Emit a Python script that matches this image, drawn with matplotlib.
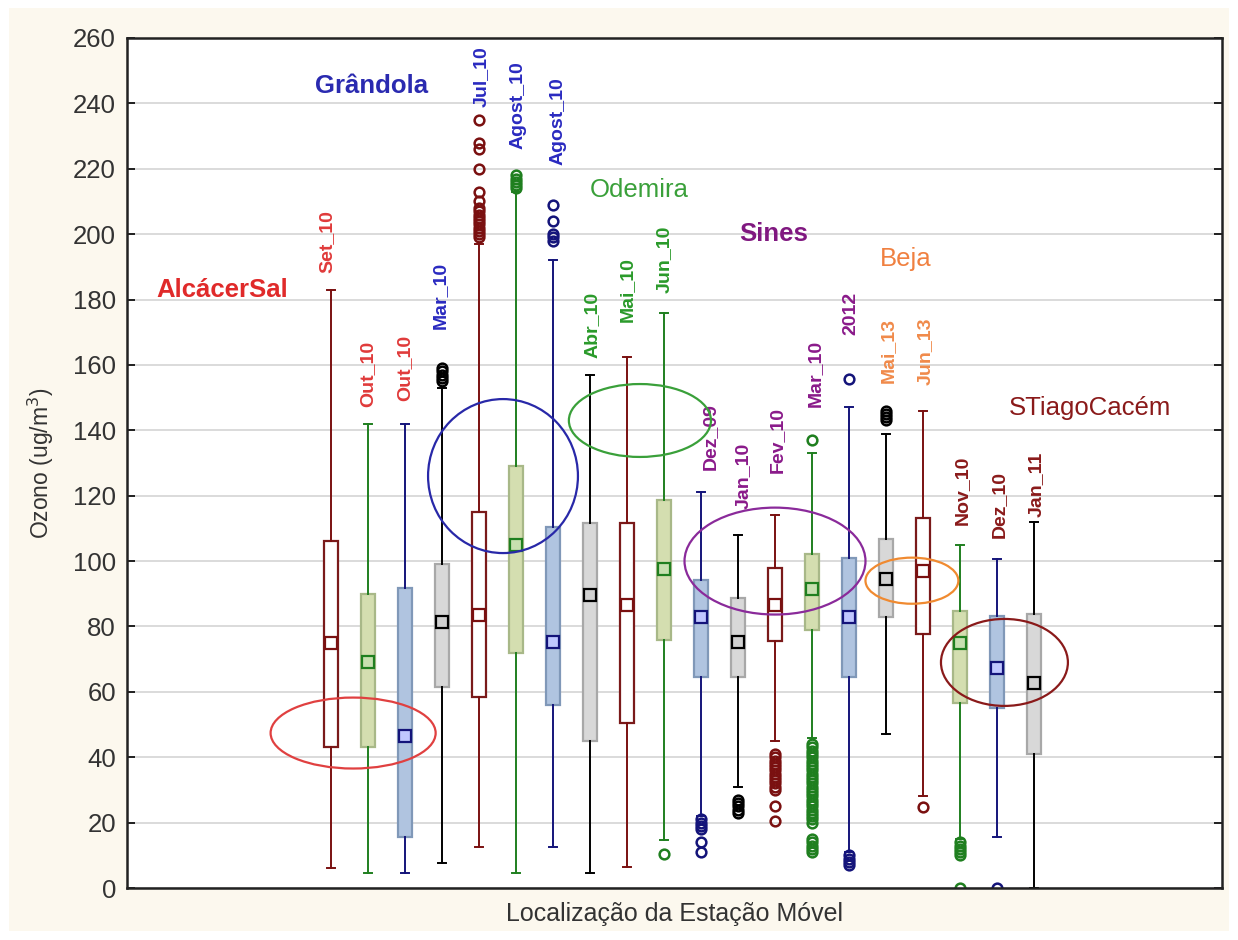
import matplotlib
matplotlib.use("Agg")
import matplotlib.pyplot as plt
from matplotlib.patches import Ellipse, Rectangle

plt.rcParams['font.family'] = ['Liberation Sans', 'DejaVu Sans']

# ---- data -------------------------------------------------------------
labels = ['Set_10', 'Out_10', 'Out_10', 'Mar_10', 'Jul_10', 'Agost_10', 'Agost_10',
          'Abr_10', 'Mai_10', 'Jun_10', 'Dez_09', 'Jan_10', 'Fev_10', 'Mar_10',
          '2012', 'Mai_13', 'Jun_13', 'Nov_10', 'Dez_10', 'Jan_11']
whisker_low = [6, 4.6, 4.6, 7.6, 12.6, 4.6, 12.6, 4.6, 6.4, 14.7,
               22, 31, 45, 46, 11, 47, 28, 15, 15.6, 0]
q1 = [43, 43, 15.6, 61.5, 58.4, 72, 56, 45, 50.5, 75.9,
      64.5, 64.5, 75.7, 78.9, 64.5, 82.9, 77.7, 56.6, 55, 41]
q3 = [106, 90, 91.8, 99, 115, 129, 110.4, 111.7, 111.7, 118.7,
      94.2, 88.7, 97.9, 102.2, 101, 106.8, 113.2, 84.7, 83.2, 83.8]
whisker_high = [183, 142, 142, 153, 197, 213, 192, 157, 162.5, 176,
                121, 108, 114, 133, 147, 139, 146, 105, 100.6, 112]
means = [75, 69, 46.5, 81.4, 83.5, 105, 75.3, 89.6, 86.6, 97.6,
         82.9, 75.3, 86.6, 91.5, 82.9, 94.5, 97, 74.9, 67.3, 62.7]
outliers = [
    [],
    [],
    [],
    [155, 156, 157, 158, 159],
    [199, 200, 201, 202, 203, 204, 205, 206, 207, 208, 210, 213, 220, 226, 228, 235],
    [214, 215, 216, 217, 218],
    [198, 199, 200, 204, 209],
    [],
    [],
    [10.5],
    [21, 20, 19, 18, 14, 11],
    [27, 26, 25, 24, 23],
    [41, 40, 39, 38, 37, 36, 35, 34, 33, 32, 31, 30, 25, 20.5],
    [137, 44, 43, 42, 41, 40, 39, 38, 37, 36, 35, 34, 33, 32, 31, 30, 29, 28, 27,
     26, 25, 24, 23, 22, 21, 20, 15, 14, 13, 12, 11],
    [155.7, 10, 9, 8, 7],
    [146, 145, 144, 143],
    [24.8],
    [14, 13, 12, 11, 10, 0],
    [0],
    [],
]
stations = ['AlcácerSal', 'Grândola', 'Odemira', 'Sines', 'Beja', 'STiagoCacém']

# ---- styles -----------------------------------------------------------
# four box styles repeat along the axis: white, green, blue, grey
box_fill = ['white', '#d4deb0', '#b0c4e0', '#d8d8d8']
box_edge = ['#7a1a1a', '#a8b888', '#8098b8', '#a8a8a8']
line_col = ['#7a1010', '#1f7f1f', '#14147a', '#000000']
mean_fill = ['white', '#c8e0b0', '#c0c8ff', '#d0d0d0']

label_col = ['#e03a3a'] * 3 + ['#2a2ac0'] * 4 + ['#2a9a2a'] * 3 + ['#8a1a8a'] * 5 \
    + ['#f08a4a'] * 2 + ['#8a1a1a'] * 3
label_base = [188, 147, 149, 171, 239, 226, 221, 162, 173, 182,
              128, 116, 127, 147, 169, 154.5, 154, 111, 107, 113.5]
label_dx = [-0.1, 0.0, 0.0, -0.05, 0.05, 0.05, 0.15, 0.05, 0.0, 0.0,
            0.25, 0.15, 0.05, 0.1, 0.05, 0.05, 0.05, 0.05, 0.05, 0.05]

station_col = ['#e02a2a', '#2a2ab0', '#3aa03a', '#801880', '#f08040', '#8a1a1a']
station_pos = [(-1.95, 183), (2.11, 245.3), (9.32, 213.5), (12.95, 200),
               (16.54, 192.4), (21.5, 146.8)]
station_bold = [True, True, False, True, False, False]

ellipses = [((1.6, 47.4), 4.46, 21.7), ((5.65, 126), 4.05, 47.1),
            ((9.35, 143), 3.84, 22.3), ((13.0, 100), 4.89, 32.7),
            ((16.7, 94), 2.51, 14.1), ((19.2, 69), 3.43, 26.6)]
ellipse_col = ['#e04040', '#2828a8', '#3aa03a', '#8a2a9a', '#f08a30', '#8a1a1a']

# ---- figure -----------------------------------------------------------
fig = plt.figure(figsize=(12.38, 9.40), dpi=100, facecolor='white')
fig.patches.append(Rectangle((0.007, 0.01), 0.986, 0.982, transform=fig.transFigure,
                             facecolor='#fcf8ee', edgecolor='none', zorder=-10))
ax = fig.add_axes([0.1026, 0.0553, 0.8845, 0.9043])
ax.set_facecolor('white')

for i in range(len(labels)):
    s = i % 4
    stats = [dict(whislo=whisker_low[i], q1=q1[i], med=means[i], q3=q3[i],
                  whishi=whisker_high[i], mean=means[i], fliers=outliers[i])]
    ax.bxp(stats, positions=[i + 1], widths=0.39, patch_artist=True,
           showmeans=True, manage_ticks=False,
           boxprops=dict(facecolor=box_fill[s], edgecolor=box_edge[s], linewidth=1.6),
           whiskerprops=dict(color=line_col[s], linewidth=1.4),
           capprops=dict(color=line_col[s], linewidth=1.4),
           capwidths=0.22,
           medianprops=dict(linewidth=0),
           meanprops=dict(marker='s', markersize=8, markerfacecolor=mean_fill[s],
                          markeredgecolor=line_col[s] if s != 3 else '#000000',
                          markeredgewidth=1.6),
           flierprops=dict(marker='o', markersize=7, markerfacecolor='none',
                           markeredgecolor=line_col[s], markeredgewidth=1.8))
    ax.text(i + 1 + label_dx[i], label_base[i], labels[i], rotation=90,
            ha='center', va='bottom', fontsize=14, fontweight='bold',
            color=label_col[i], clip_on=False)

for (c, w, h), col in zip(ellipses, ellipse_col):
    ax.add_patch(Ellipse(c, w, h, facecolor='none', edgecolor=col, linewidth=1.6,
                         zorder=5))

for name, (x, y), col, b in zip(stations, station_pos, station_col, station_bold):
    ax.text(x, y, name, ha='center', va='center', fontsize=18.5, color=col,
            fontweight='bold' if b else 'normal')

ax.set_xlim(-4.51, 25.08)
ax.set_ylim(0, 260)
ax.set_yticks(range(0, 261, 20))
ax.set_xticks([])
ax.yaxis.grid(True, color='#d4d4d4', linewidth=1.2)
ax.set_axisbelow(True)
ax.tick_params(axis='y', direction='in', length=6, width=1.2, right=True,
               labelsize=18.5, labelcolor='#333333', pad=8)
for sp in ax.spines.values():
    sp.set_linewidth(1.8)
    sp.set_color('#222222')

ax.set_ylabel('Ozono (ug/m$^3$)', fontsize=16.5, color='#333333', labelpad=12)
ax.set_xlabel('Localização da Estação Móvel', fontsize=18, color='#333333', labelpad=10)

fig.savefig('out.png', dpi=100, facecolor=fig.get_facecolor())
